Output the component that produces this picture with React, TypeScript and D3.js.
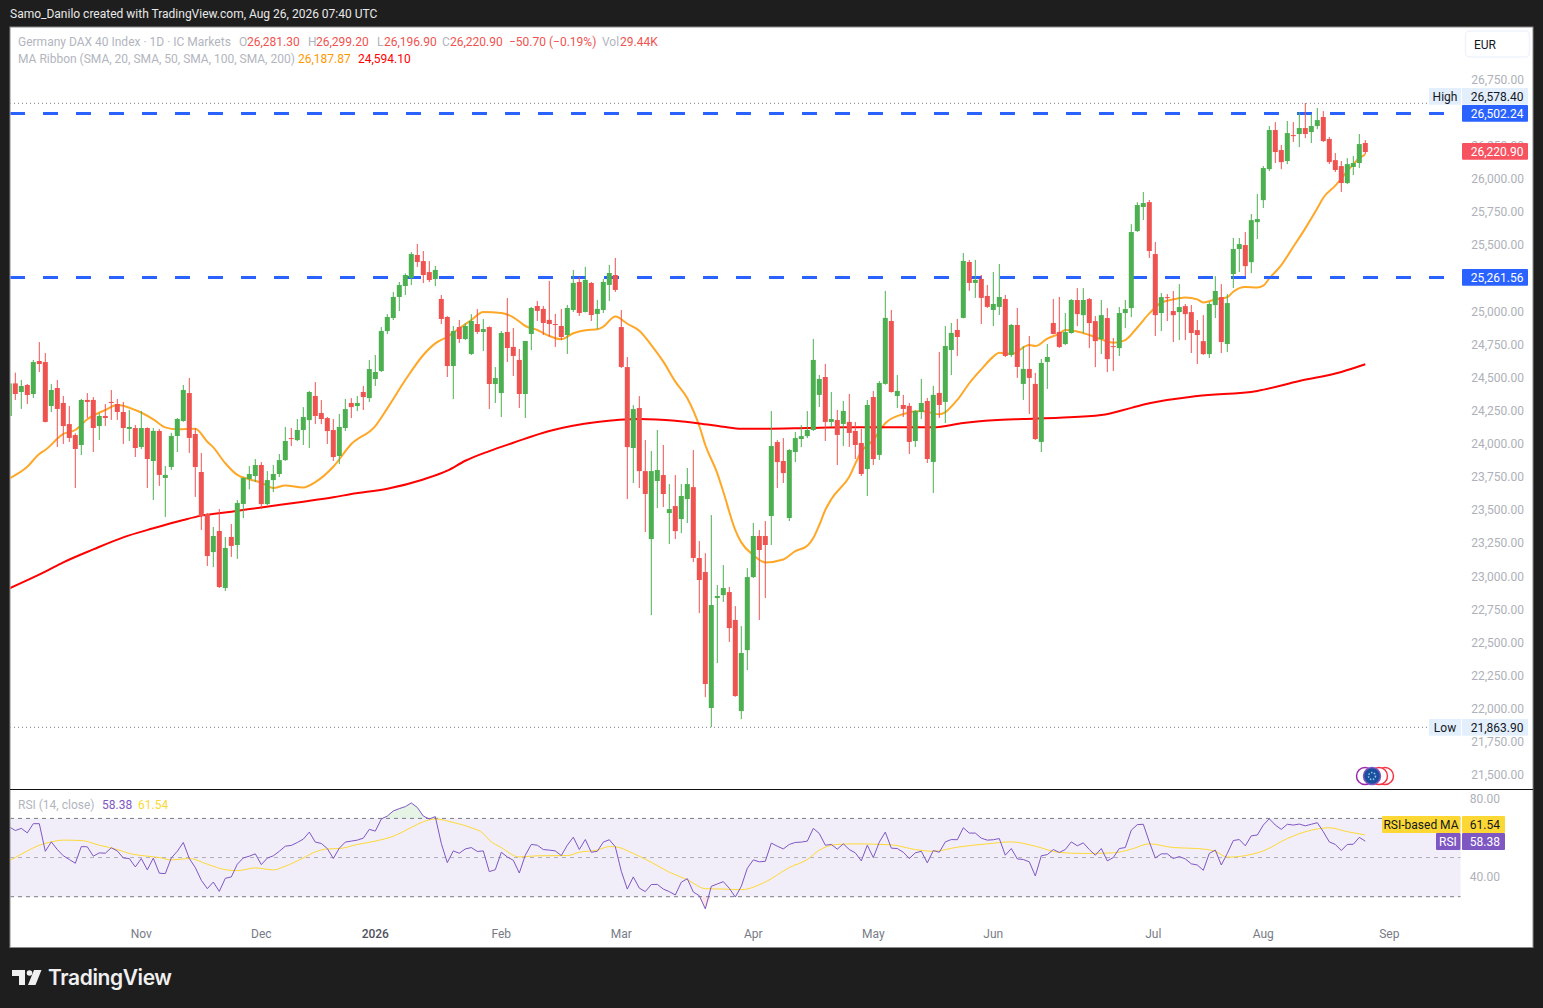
import React from "react";
import * as d3 from "d3";

const opens = [
24204,24450,24385,24438,24370,24619,24611,24279,24415,24302,
24143,24060,23985,24325,24325,24128,24204,24310,24294,24234,
24106,24113,23970,24113,23864,24091,23736,23819,24053,24166,
24377,24068,23781,23464,23177,23336,22906,23291,23230,23540,
23728,23751,23834,23539,23720,23766,23871,24037,24022,24098,
24173,24355,24226,24188,24098,23902,24113,24302,24279,24385,
24339,24483,24543,24845,24943,25102,25185,25245,25419,25373,
25290,25238,25087,24951,24581,24875,24785,24672,24898,24838,
24875,24445,24377,24838,24725,24627,24370,24823,25034,25012,
24929,24898,24883,24815,25004,25215,24989,25208,24974,25004,
25193,25268,24875,24573,23962,24264,23788,23275,23713,23758,
23471,23524,23426,23577,23667,23132,23026,22000,22830,22852,
22875,22664,21977,22437,22988,23298,23298,23449,24007,23864,
23434,23932,24030,24052,24098,24363,24498,24159,24174,24144,
24159,24091,24000,23804,24347,23910,24446,24921,24355,24287,
24280,24015,24234,24317,23857,24378,24310,24702,24853,24944,
25366,25208,25238,25110,25004,25027,25087,24664,24891,24446,
24559,24446,24008,24612,24906,24838,24747,24830,25079,24965,
25086,24920,24784,24943,24731,24716,24981,25018,25600,25781,
25818,25426,24981,25101,24996,24988,25033,24988,24852,24769,
24671,25041,25101,24747,25275,25464,25494,25365,25667,25833,
26067,26362,26211,26128,26324,26332,26377,26347,26392,26460,
26294,26135,26090,25962,26083,26113,26264];

const highs = [
24470,24531,24476,24445,24627,24762,24679,24445,24476,24355,
24279,24073,24332,24377,24347,24224,24294,24400,24332,24310,
24249,24136,24242,24118,24113,24106,23826,24076,24189,24438,
24491,24113,23925,23472,23366,23502,23291,23389,23570,23740,
23826,23879,23856,23788,23834,23917,24121,24113,24181,24271,
24392,24460,24324,24196,24181,24219,24332,24339,24355,24430,
24626,24664,24875,24973,25140,25215,25280,25441,25502,25449,
25373,25336,25117,24958,24883,24928,24903,24973,25011,24936,
24880,24573,24845,25094,24868,24710,24770,25027,25072,25034,
25223,24974,25012,25042,25306,25253,25329,25215,25080,25238,
25344,25397,25004,24649,24286,24354,24022,23939,24098,23985,
23690,23758,23690,23811,23947,23260,23169,23456,22928,23079,
22913,22769,22618,23056,23396,23343,23411,24241,24022,24037,
23954,24083,24135,24241,24785,24513,24597,24385,24249,24317,
24370,24159,24106,24325,24393,24468,25148,25004,24513,24363,
24302,24249,24483,24340,24431,24687,24883,24906,24936,25434,
25382,25382,25268,25193,25291,25351,25117,24898,25019,24732,
24808,24529,24634,24747,25087,25102,24981,25086,25169,25169,
25094,24958,25079,25018,24792,25026,25079,25652,25818,25894,
25834,25517,25132,25124,25147,25199,25049,25041,24928,24965,
25064,25260,25199,25124,25547,25547,25592,25728,25879,26090,
26392,26422,26249,26430,26422,26498,26566,26483,26528,26505,
26309,26188,26128,26150,26166,26332,26286];

const lows = [
24200,24325,24257,24294,24340,24536,24155,24234,23970,23993,
24008,23660,23909,24189,23932,24023,24128,24174,24174,23993,
24015,23894,23955,23660,23570,23676,23442,23796,23932,24160,
23925,23593,23343,23072,23064,22906,22883,23140,23125,23434,
23650,23705,23502,23532,23630,23743,23864,23977,24015,23985,
23962,24143,24143,23992,23864,23841,24090,24188,24241,24249,
24309,24430,24536,24822,24928,24996,25117,25192,25328,25207,
25215,25185,24898,24498,24332,24755,24777,24664,24822,24694,
24256,24302,24196,24611,24506,24264,24189,24702,24921,24815,
24800,24725,24778,24672,24989,24959,24985,24921,24861,24981,
25072,25140,24566,23577,23698,23660,23328,22701,23509,23517,
23237,23275,23320,23396,23101,22716,22082,21856,22339,22800,
22498,22085,21916,22286,22981,22664,22830,23230,23660,23698,
23411,23856,23969,24037,24091,24272,24015,24121,23834,23978,
23970,23879,23751,23600,23834,23872,24440,24380,24264,24196,
23917,23970,24181,23849,23623,24189,24151,24513,24657,24940,
25148,25095,24898,25019,24883,24966,24649,24649,24491,24325,
24219,24023,23932,24408,24820,24717,24739,24825,24882,24830,
24716,24573,24671,24535,24543,24656,24867,24950,25592,25683,
25396,24807,24845,24920,24762,24777,24777,24679,24596,24664,
24641,24943,24679,24686,25169,25290,25260,25282,25539,25773,
26052,26113,26067,26105,26271,26233,26301,26264,26369,26271,
26105,26045,25894,25954,26022,26075,26181];

const closes = [
24450,24370,24430,24362,24611,24596,24159,24400,24257,24128,
24038,23955,24325,24310,24113,24204,24189,24302,24234,24113,
24121,23962,24113,23879,24091,23759,23759,24053,24181,24400,
24038,23819,23449,23147,23298,22913,23208,23223,23547,23736,
23766,23834,23539,23720,23766,23871,24015,24030,24098,24196,
24385,24204,24181,24090,23894,24121,24256,24271,24302,24347,
24558,24536,24845,24951,25102,25192,25268,25426,25366,25268,
25230,25306,24936,24581,24845,24785,24883,24921,24838,24860,
24445,24490,24830,24717,24657,24370,24770,25019,24997,24906,
24898,24891,24800,25019,25208,24981,25231,24966,25012,25215,
25283,25155,24574,23969,24256,23788,23615,23788,23796,23615,
23501,23335,23600,23690,23132,22966,22181,22777,22845,22905,
22603,22090,22415,22988,23298,23192,23230,23977,23856,23773,
23947,24037,24052,24098,24627,24483,24159,24181,24061,24242,
24076,23985,23766,24287,23879,24453,24944,24385,24393,24257,
24008,24242,24302,23879,24363,24287,24732,24831,24800,25374,
25208,25231,25095,25027,25049,25102,24657,24891,24574,24559,
24491,24030,24604,24649,24823,24725,24837,25079,24973,25079,
24905,24769,24965,24633,24724,24981,25011,25592,25796,25811,
25449,24965,25101,25094,24965,25026,24973,24830,24815,24671,
25049,25147,24762,25056,25464,25501,25335,25682,25690,26075,
26362,26196,26120,26339,26316,26377,26332,26392,26437,26279,
26120,26060,25962,26105,26113,26256,26196];

const ma20Bars = [0,3,5,6,9,11,13,16,18,21,24,26,28,31,33,34,36,38,40,42,44,46,49,51,54,57,61,63,66,69,71,73,75,77,79,82,84,86,88,90,92,94,96,98,99,101,103,105,107,109,111,113,115,116,118,119,121,122,124,126,129,131,133,134,135,136,137,140,142,144,146,149,152,155,158,160,162,164,165,167,170,171,173,175,176,178,180,182,184,186,188,190,192,194,196,198,199,201,203,204,206,208,209,210,212,214,216,218,219,221,223,225,226];
const ma20Values = [23733,23821,23917,23947,24068,24098,24179,24249,24287,24249,24179,24118,24103,24108,24010,23967,23847,23759,23726,23700,23660,23680,23665,23705,23821,23992,24128,24261,24475,24664,24752,24802,24865,24928,24989,24982,24949,24883,24853,24808,24783,24828,24851,24858,24878,24954,24900,24847,24739,24614,24463,24337,24128,23985,23771,23632,23343,23250,23154,23099,23121,23184,23225,23283,23381,23494,23575,23746,23935,24023,24149,24219,24242,24217,24325,24451,24556,24652,24682,24672,24740,24732,24788,24825,24852,24842,24815,24782,24757,24777,24872,24978,25059,25084,25099,25084,25061,25084,25100,25142,25177,25174,25187,25242,25343,25481,25620,25771,25851,25942,26052,26148,26178];

const ma200Bars = [0,6,9,14,19,24,29,32,37,42,49,54,57,63,69,73,76,80,84,90,98,105,111,115,119,122,126,133,139,144,149,154,159,164,169,175,182,187,190,198,208,215,222,226];
const ma200Values = [22903,23029,23099,23197,23288,23356,23419,23452,23482,23514,23557,23590,23615,23655,23725,23791,23866,23939,24002,24091,24159,24181,24168,24148,24123,24108,24108,24113,24118,24118,24118,24118,24151,24171,24181,24191,24211,24265,24300,24355,24393,24468,24536,24594];

const rsiValues = [
65.7,63.8,64.9,62.6,67.3,67.3,53.2,58.0,54.1,50.9,
49.0,47.1,55.6,55.5,50.7,52.4,52.2,55.0,53.4,49.8,
49.5,45.2,49.5,43.7,49.7,42.0,41.8,49.8,53.2,57.7,
49.5,44.9,38.4,34.1,37.5,32.7,39.4,40.1,46.6,49.8,
50.7,51.9,46.4,49.7,50.9,53.2,55.8,56.2,57.7,59.4,
63.0,57.9,57.2,54.6,49.5,54.8,57.9,58.4,58.9,59.9,
64.4,63.5,69.7,71.2,73.8,75.0,76.0,77.9,75.6,71.2,
69.7,70.9,57.2,47.4,53.4,52.2,54.4,55.1,53.1,53.4,
42.8,43.8,52.7,50.3,48.6,42.1,51.2,56.7,56.3,54.1,
53.8,53.4,51.0,56.3,60.4,54.1,59.2,52.7,53.2,57.9,
59.1,55.5,43.0,33.9,40.1,34.4,32.6,36.2,36.3,33.9,
32.6,30.9,37.4,39.2,32.4,30.5,23.8,35.3,36.5,37.7,
34.3,29.8,35.3,44.5,48.8,47.8,48.1,57.4,55.8,54.4,
56.7,57.7,57.9,58.4,64.9,62.3,56.3,56.7,54.3,57.0,
54.1,52.4,48.3,56.3,50.0,57.9,63.0,54.8,54.6,52.7,
49.5,52.4,53.2,47.3,53.6,52.7,58.0,59.2,59.1,65.2,
62.5,62.5,59.9,58.9,59.1,59.7,51.2,54.6,49.3,49.0,
47.8,40.6,50.9,51.5,54.1,52.6,54.1,58.0,56.0,57.5,
54.1,51.2,54.6,48.3,50.0,54.6,55.1,64.0,66.8,67.0,
58.0,49.8,51.9,51.9,49.5,50.5,49.3,46.8,46.2,43.5,
52.1,53.8,46.2,52.1,58.7,59.2,56.0,61.1,61.5,66.6,
69.8,66.6,64.4,67.0,66.6,67.1,66.2,67.0,67.8,63.2,
58.0,56.7,53.6,56.7,56.8,60.3,58.38];

const rsiMaBars = [0,3,5,7,9,12,15,18,20,23,25,27,30,33,36,38,41,44,46,49,51,53,55,58,61,64,67,69,71,74,77,79,80,82,85,88,93,95,98,100,101,104,107,110,113,116,119,122,126,130,133,135,138,141,147,151,154,158,163,167,171,175,179,184,187,190,194,198,201,203,206,209,213,217,220,223,226];
const rsiMaValues = [48.3,53.4,56.3,58,58.9,58.7,56.3,54.1,52.1,50.7,50,48.8,49.5,46.6,43.8,43.3,44.7,43.7,45.6,49.8,52.9,54.4,54.6,56.7,58.4,60.9,65.4,68.3,69.7,67.9,65.2,62.3,58.9,55.1,50.3,50.9,51,52.7,53.8,55.6,55.5,52.1,47.6,42.5,38.7,34.1,33.9,33.6,37.5,44.9,49,53.8,56.7,57,56.5,54.1,53.2,55.3,57,58,55.8,52.6,52.1,52.4,54.3,57,55.1,54.6,53.2,50.2,51,53.4,59.7,64,65.2,63.2,61.54];

const priceTicks = d3.range(21500, 26751, 250);
const rsiTicks = [80, 40];
const rsiBands = [70, 50, 30];
const timeTickBars = [22, 42, 61, 82, 102, 124, 144, 164, 190.67, 209, 230];
const timeTickLabels = ["Nov", "Dec", "2026", "Feb", "Mar", "Apr", "May", "Jun", "Jul", "Aug", "Sep"];
const dashedLevels = [26502.24, 25261.56];
const extremes = [26578.4, 21863.9];

const FONT = "Roboto, sans-serif";
const UP = "#4caf50";
const DOWN = "#ef5350";
const fmt = d3.format(",.2f");

export default function App() {
  const x = d3.scaleLinear().domain([0, 226]).range([9.3, 1365.3]);
  // candle and average readings were taken against the printed tick labels
  const yRead = d3.scaleLinear().domain([21500, 26000]).range([774.25, 178]);
  // labelled levels sit on the exact price scale given by the High and Low markers
  const yLevel = d3.scaleLinear().domain([21863.9, 26578.4]).range([727.3, 103.3]);
  const yRsi = d3.scaleLinear().domain([30, 70]).range([896.7, 818.4]);

  const ma20 = d3.line<number>().x((b) => x(b)).y((_, k) => yRead(ma20Values[k])).curve(d3.curveMonotoneX)(ma20Bars);
  const ma200 = d3.line<number>().x((b) => x(b)).y((_, k) => yRead(ma200Values[k])).curve(d3.curveMonotoneX)(ma200Bars);
  const rsiLine = d3.line<number>().x((_, k) => x(k)).y((v) => yRsi(v))(rsiValues);
  const rsiMa = d3.line<number>().x((b) => x(b)).y((_, k) => yRsi(rsiMaValues[k])).curve(d3.curveMonotoneX)(rsiMaBars);
  const overArea = d3.area<number>().x((_, k) => x(k)).y0(yRsi(70)).y1((v) => yRsi(Math.max(v, 70)))(rsiValues);
  const underArea = d3.area<number>().x((_, k) => x(k)).y0(yRsi(30)).y1((v) => yRsi(Math.min(v, 30)))(rsiValues);

  const legendGray = "#b2b5be";
  const axisGray = "#aeb1b9";
  const r = DOWN;

  return (
    <svg width={1543} height={1008} style={{ position: "absolute", left: 0, top: 0, display: "block" }} fontFamily={FONT} fontSize={12}>
      <defs>
        <clipPath id="main"><rect x={10.5} y={28} width={1450} height={761} /></clipPath>
        <clipPath id="sub"><rect x={10.5} y={790} width={1450} height={130} /></clipPath>
      </defs>
      <rect width={1543} height={1008} fill="#1e1e1e" />
      <text x={10} y={18} fill="#e8e8e8" fontSize={12}>Samo_Danilo created with TradingView.com, Aug 26, 2026 07:40 UTC</text>
      <rect x={10} y={27} width={1523} height={920.5} fill="#fff" stroke="#8a8a8a" strokeWidth={1} />

      <g clipPath="url(#main)">
        <path d={ma20 ?? ""} fill="none" stroke="#ff9800" strokeOpacity={0.85} strokeWidth={2} />
        <path d={ma200 ?? ""} fill="none" stroke="#ff0000" strokeWidth={2} />
        {extremes.map((p) => (
          <line key={p} x1={10} x2={1430} y1={yLevel(p)} y2={yLevel(p)} stroke="#787b86" strokeWidth={1} strokeDasharray="1 3" />
        ))}
        {dashedLevels.map((p) => (
          <line key={p} x1={10} x2={1461} y1={yLevel(p)} y2={yLevel(p)} stroke="#2962ff" strokeWidth={3} strokeDasharray="15 18" />
        ))}
        {opens.map((o, i) => {
          const c = closes[i];
          const col = c >= o ? UP : DOWN;
          const top = yRead(Math.max(o, c));
          const bot = yRead(Math.min(o, c));
          return (
            <g key={i}>
              <line x1={x(i)} x2={x(i)} y1={yRead(highs[i])} y2={yRead(lows[i])} stroke={col} strokeWidth={1} />
              <rect x={x(i) - 2.5} y={top} width={5} height={Math.max(bot - top, 1)} fill={col} />
            </g>
          );
        })}
      </g>

      {priceTicks.map((p) => (
        <text key={p} x={1524} y={yRead(p) + 5} textAnchor="end" fill={axisGray}>{fmt(p)}</text>
      ))}

      {/* price labels */}
      <rect x={1429} y={88} width={32} height={16.7} fill="#e3effd" />
      <text x={1445} y={100.5} textAnchor="middle" fill="#131722">High</text>
      <rect x={1462} y={88} width={66} height={16.7} fill="#e3effd" />
      <text x={1523.5} y={100.5} textAnchor="end" fill="#131722">{fmt(extremes[0])}</text>
      <rect x={1462} y={105} width={66} height={16.7} fill="#2962ff" rx={1} />
      <text x={1523.5} y={117.5} textAnchor="end" fill="#fff">{fmt(dashedLevels[0])}</text>
      <rect x={1462} y={143} width={66} height={16.7} fill="#f7525f" rx={1} />
      <text x={1523.5} y={155.5} textAnchor="end" fill="#fff">{fmt(26220.9)}</text>
      <rect x={1462} y={269} width={66} height={16.7} fill="#2962ff" rx={1} />
      <text x={1523.5} y={281.5} textAnchor="end" fill="#fff">{fmt(dashedLevels[1])}</text>
      <rect x={1429} y={719} width={32} height={16.7} fill="#e3effd" />
      <text x={1445} y={731.5} textAnchor="middle" fill="#131722">Low</text>
      <rect x={1462} y={719} width={66} height={16.7} fill="#e3effd" />
      <text x={1523.5} y={731.5} textAnchor="end" fill="#131722">{fmt(extremes[1])}</text>

      {/* currency */}
      <rect x={1465.5} y={31} width={64} height={26} rx={4} fill="#fff" stroke="#f0f3fa" strokeWidth={1.5} />
      <text x={1474} y={49} fill="#131722">EUR</text>

      {/* legend */}
      <text x={18} y={46} fill={legendGray}>Germany DAX 40 Index · 1D · IC Markets</text>
      <text x={239} y={46} fill={legendGray}>O</text>
      <text x={247} y={46} fill={r}>26,281.30</text>
      <text x={308} y={46} fill={legendGray}>H</text>
      <text x={316} y={46} fill={r}>26,299.20</text>
      <text x={377} y={46} fill={legendGray}>L</text>
      <text x={384} y={46} fill={r}>26,196.90</text>
      <text x={442} y={46} fill={legendGray}>C</text>
      <text x={450} y={46} fill={r}>26,220.90</text>
      <text x={509} y={46} fill={r}>−50.70 (−0.19%)</text>
      <text x={602} y={46} fill={legendGray}>Vol</text>
      <text x={620} y={46} fill={r}>29.44K</text>
      <text x={18} y={63} fill={legendGray}>MA Ribbon (SMA, 20, SMA, 50, SMA, 100, SMA, 200)</text>
      <text x={298} y={63} fill="#ff9800">26,187.87</text>
      <text x={358} y={63} fill="#ff0000">24,594.10</text>

      {/* event badges */}
      <g>
        <circle cx={1385} cy={776} r={8.5} fill="#fff" stroke="#f23645" strokeWidth={1.5} />
        <circle cx={1379} cy={776} r={8.5} fill="#fff" stroke="#f23645" strokeWidth={1.5} />
        <circle cx={1365} cy={776} r={8.5} fill="#fff" stroke="#9c27b0" strokeWidth={1.5} />
        <circle cx={1372} cy={776} r={8.5} fill="#1b4f9c" stroke="#7e57c2" strokeWidth={1.5} />
        <circle cx={1372} cy={776} r={3.5} fill="none" stroke="#90caf9" strokeWidth={1.5} strokeDasharray="1.5 1.5" />
      </g>

      {/* pane divider */}
      <line x1={10} x2={1533} y1={789.5} y2={789.5} stroke="#111" strokeWidth={1} />

      {/* RSI pane */}
      <rect x={10.5} y={yRsi(70)} width={1450} height={yRsi(30) - yRsi(70)} fill="#7e57c2" fillOpacity={0.1} />
      <g clipPath="url(#sub)">
        <path d={overArea ?? ""} fill="#4caf50" fillOpacity={0.14} />
        <path d={underArea ?? ""} fill="#ef5350" fillOpacity={0.14} />
        {rsiBands.map((b) => (
          <line key={b} x1={10} x2={1461} y1={yRsi(b)} y2={yRsi(b)} stroke="#787b86" strokeOpacity={b === 50 ? 0.55 : 1} strokeWidth={1} strokeDasharray="4 4" />
        ))}
        <path d={rsiMa ?? ""} fill="none" stroke="#fdd835" strokeWidth={1} />
        <path d={rsiLine ?? ""} fill="none" stroke="#7e57c2" strokeWidth={1} />
      </g>
      <text x={18} y={809} fill={legendGray}>RSI (14, close)</text>
      <text x={102} y={809} fill="#7e57c2">58.38</text>
      <text x={138} y={809} fill="#fdd835">61.54</text>
      {rsiTicks.map((t) => (
        <text key={t} x={1500} y={yRsi(t) + 4} textAnchor="end" fill={axisGray}>{t.toFixed(2)}</text>
      ))}
      <rect x={1382} y={816} width={78.5} height={17} fill="#fdd835" rx={1} />
      <text x={1421} y={829} textAnchor="middle" fill="#131722">RSI-based MA</text>
      <rect x={1462} y={816} width={43} height={17} fill="#fdd835" rx={1} />
      <text x={1500} y={829} textAnchor="end" fill="#131722">61.54</text>
      <rect x={1436} y={833} width={24.5} height={17} fill="#7e57c2" rx={1} />
      <text x={1448} y={846} textAnchor="middle" fill="#fff">RSI</text>
      <rect x={1462} y={833} width={43} height={17} fill="#7e57c2" rx={1} />
      <text x={1500} y={846} textAnchor="end" fill="#fff">58.38</text>

      {/* time axis */}
      {timeTickBars.map((b, k) => (
        <text key={k} x={x(b)} y={938} textAnchor="middle" fill={timeTickLabels[k] === "2026" ? "#50535e" : "#787b86"} fontWeight={timeTickLabels[k] === "2026" ? 500 : 400}>
          {timeTickLabels[k]}
        </text>
      ))}

      {/* wordmark */}
      <g fill="#f0f0f0">
        <path d="M12 970h13v15h-6v-9h-7z" />
        <circle cx={29.5} cy={973} r={2.8} />
        <path d="M34 970h7.5l-6 15h-7.5z" />
        <text x={48} y={985} fontSize={21} fontWeight={600} fontFamily="Inter, sans-serif" letterSpacing={-0.4}>TradingView</text>
      </g>
    </svg>
  );
}
